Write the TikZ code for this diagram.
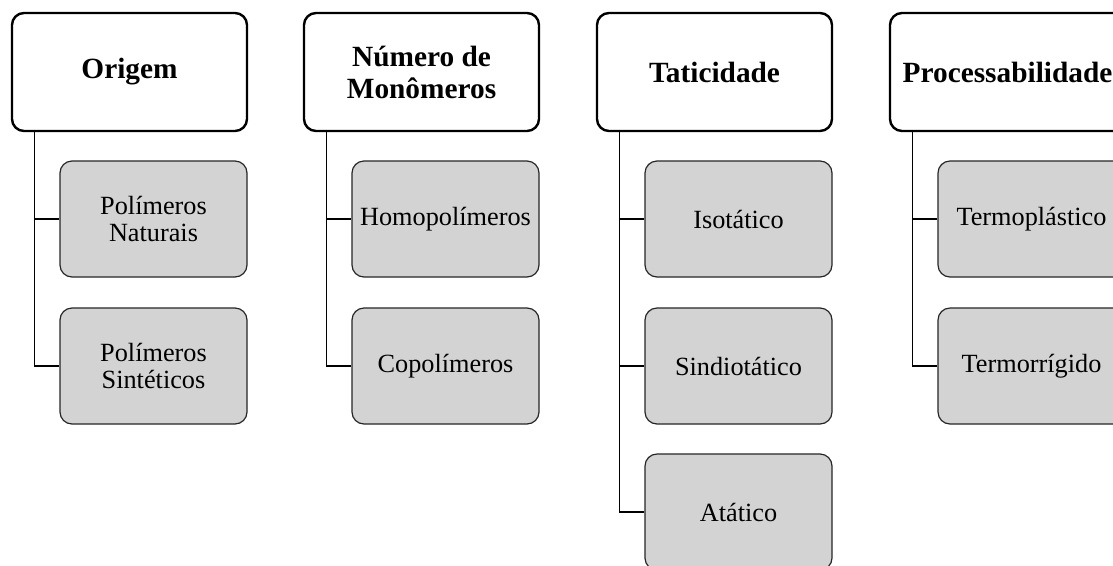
\documentclass[tikz,border=0pt]{standalone}
\usepackage{fontspec}
\setmainfont{Liberation Serif}
\definecolor{childfill}{RGB}{211,211,211}
\begin{document}
\begin{tikzpicture}[x=0.75pt,y=-0.75pt,
  header/.style={draw=black, line width=1.8pt, rounded corners=9pt, fill=white,
    minimum width=176.25pt, minimum height=88.5pt, align=center, inner sep=0pt,
    font=\fontsize{22}{24}\selectfont\bfseries},
  child/.style={draw=black!85, line width=0.9pt, rounded corners=9pt, fill=childfill,
    minimum width=140.25pt, minimum height=87pt, align=center, inner sep=0pt,
    font=\fontsize{19.7}{20.5}\selectfont},
  conn/.style={draw=black, line width=0.9pt}]
\useasboundingbox (0,0) rectangle (1113,565);
\clip (0,0) rectangle (1113,565);
\fill[white] (0,0) rectangle (1113,565);

% column 1
\node[header] (h1) at (129.5,72) {Origem};
\node[child] (c11) at (153.5,219) {Polímeros\\Naturais};
\node[child] (c12) at (153.5,366) {Polímeros\\Sintéticos};
\coordinate (t1) at ([xshift=18pt]h1.south west);
\draw[conn] (t1) |- (c11.west);
\draw[conn] (t1) |- (c12.west);

% column 2
\node[header] (h2) at (421.5,72) {Número de\\Monômeros};
\node[child] (c21) at (445.5,219) {Homopolímeros};
\node[child] (c22) at (445.5,366) {Copolímeros};
\coordinate (t2) at ([xshift=18pt]h2.south west);
\draw[conn] (t2) |- (c21.west);
\draw[conn] (t2) |- (c22.west);

% column 3
\node[header] (h3) at (714.5,72) {Taticidade};
\node[child] (c31) at (738.5,219) {Isotático};
\node[child] (c32) at (738.5,366) {Sindiotático};
\node[child] (c33) at (738.5,512) {Atático};
\coordinate (t3) at ([xshift=18pt]h3.south west);
\draw[conn] (t3) |- (c31.west);
\draw[conn] (t3) |- (c32.west);
\draw[conn] (t3) |- (c33.west);

% column 4
\node[header] (h4) at (1007.5,72) {Processabilidade};
\node[child] (c41) at (1031.5,219) {Termoplástico};
\node[child] (c42) at (1031.5,366) {Termorrígido};
\coordinate (t4) at ([xshift=18pt]h4.south west);
\draw[conn] (t4) |- (c41.west);
\draw[conn] (t4) |- (c42.west);
\end{tikzpicture}
\end{document}
